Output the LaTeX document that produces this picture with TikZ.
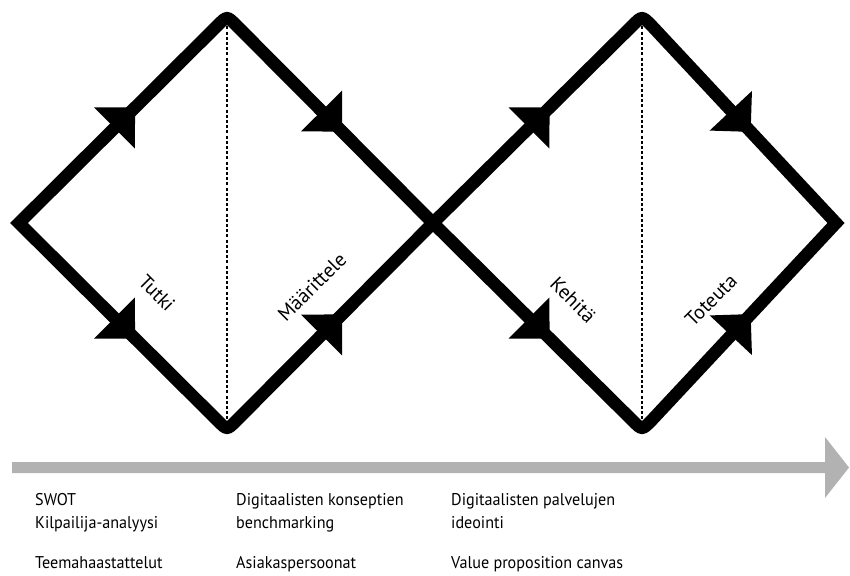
\documentclass[tikz,border=0pt]{standalone}
\usepackage{fontspec}
\setmainfont{PT Sans}
\newfontfamily\methodfont[FakeStretch=0.95]{PT Sans}
\usetikzlibrary{calc,decorations.markings}

\tikzset{
  flow/.style={line width=12.5pt, line join=miter, line cap=butt},
  divider/.style={line width=1.5pt, dash pattern=on 3pt off 2.2pt},
  flowmark/.style={postaction={decorate}, decoration={markings,
      mark=at position 0.5 with {\fill (17pt,0pt) -- (-12pt,29pt) -- (-12pt,-29pt) -- cycle;}}},
  phase/.style={font=\fontsize{20}{20}\selectfont, inner sep=0pt},
  method/.style={font=\methodfont\fontsize{17}{21}\selectfont, anchor=base west, inner sep=0pt},
  timeline/.style={fill=black!30}
}

\begin{document}
\begin{tikzpicture}[x=1pt,y=-1pt]
\useasboundingbox (0,0) rectangle (850,575);

% vertices of the two diamonds
\coordinate (L1) at (19,223);
\coordinate (T1) at (227,16);
\coordinate (B1) at (227,430);
\coordinate (X)  at (433,223);
\coordinate (T2) at (642,16);
\coordinate (B2) at (642,430);
\coordinate (R2) at (836,223);

% dotted dividers inside each diamond
\draw[divider] (T1) -- (B1);
\draw[divider] (T2) -- (B2);

% figure-eight outline, rounded at tops and bottoms
\draw[flow] (L1) -- ([shift={(-9,9)}]T1) .. controls (T1) .. ([shift={(9,9)}]T1)
  -- (X) -- ([shift={(-9,-9)}]B2) .. controls (B2) .. ([shift={(9,-9)}]B2)
  -- (R2) -- ([shift={(9,9)}]T2) .. controls (T2) .. ([shift={(-9,9)}]T2)
  -- (X) -- ([shift={(9,-9)}]B1) .. controls (B1) .. ([shift={(-9,-9)}]B1)
  -- cycle;

% direction marks on every edge
\path[flowmark] (L1) -- (T1);
\path[flowmark] (T1) -- (X);
\path[flowmark] (L1) -- (B1);
\path[flowmark] (B1) -- (X);
\path[flowmark] (X) -- (T2);
\path[flowmark] (T2) -- (R2);
\path[flowmark] (X) -- (B2);
\path[flowmark] (B2) -- (R2);

% phase labels
\node[phase, rotate=-45] (tutki) at (157,293) {Tutki};
\node[phase, rotate=45] (maarittele) at (312,287) {Määrittele};
\node[phase, rotate=-45] (kehita) at (573,300) {Kehitä};
\node[phase, rotate=45] (toteuta) at (711,300) {Toteuta};

% timeline arrow
\fill[timeline] (12,462) -- (825,462) -- (825,437) -- (849,467.5) -- (825,498)
  -- (825,473) -- (12,473) -- cycle;

% methods under the timeline
\node[method] (m11) at (35,505) {SWOT};
\node[method] (m12) at (35,528) {Kilpailija-analyysi};
\node[method] (m13) at (35,568) {Teemahaastattelut};
\node[method] (m21) at (236,505) {Digitaalisten konseptien};
\node[method] (m22) at (236,528) {benchmarking};
\node[method] (m23) at (236,568) {Asiakaspersoonat};
\node[method] (m31) at (451,505) {Digitaalisten palvelujen};
\node[method] (m32) at (451,528) {ideointi};
\node[method] (m33) at (451,568) {Value proposition canvas};
\end{tikzpicture}
\end{document}
